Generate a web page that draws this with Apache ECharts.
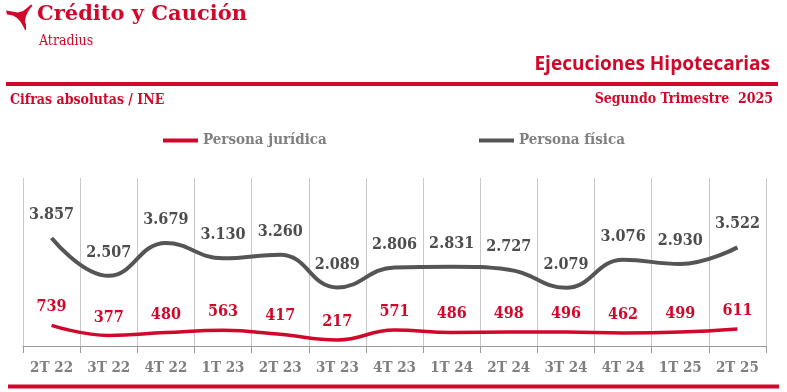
<!DOCTYPE html>
<html><head><meta charset="utf-8">
<script src="https://cdn.jsdelivr.net/npm/echarts@6/dist/echarts.min.js"></script>
<style>html,body{margin:0;padding:0;background:#fff}#c{width:787px;height:392px}</style>
</head><body><div id="c"></div>
<script>
const categories = ['2T 22','3T 22','4T 22','1T 23','2T 23','3T 23','4T 23','1T 24','2T 24','3T 24','4T 24','1T 25','2T 25'];
const personaFisica = [3857,2507,3679,3130,3260,2089,2806,2831,2727,2079,3076,2930,3522];
const personaJuridica = [739,377,480,563,417,217,571,486,498,496,462,499,611];
const seriesNames = ['Persona jurídica','Persona física'];

const RED = '#d0092c';
const GRAY = '#555555';
const SLAB = "'DejaVu Serif Condensed','DejaVu Serif',serif";
const SLABW = "'DejaVu Serif',serif";
const fmt = v => String(v).replace(/\B(?=(\d{3})+(?!\d))/g, '.');

const chart = echarts.init(document.getElementById('c'));
chart.setOption({
  animation: false,
  grid: {left: 23, right: 21, top: 178, bottom: 46},
  legend: [
    {data: [seriesNames[0]], left: 163, top: 133, padding: 0, icon: 'rect', itemWidth: 35, itemHeight: 4, itemGap: 0,
     textStyle: {color: '#808080', fontFamily: SLAB, fontWeight: 'bold', fontSize: 15}},
    {data: [seriesNames[1]], left: 479, top: 133, padding: 0, icon: 'rect', itemWidth: 35, itemHeight: 4, itemGap: 0,
     textStyle: {color: '#808080', fontFamily: SLAB, fontWeight: 'bold', fontSize: 15}}
  ],
  xAxis: {
    type: 'category', data: categories, boundaryGap: true,
    axisLine: {lineStyle: {color: '#9a9a9a', width: 1}},
    axisTick: {show: true, length: 7, lineStyle: {color: '#9a9a9a'}},
    splitLine: {show: true, lineStyle: {color: '#c8c8c8', width: 1}},
    axisLabel: {color: '#7f7f7f', fontFamily: SLAB, fontWeight: 'bold', fontSize: 15, margin: 15}
  },
  yAxis: {type: 'value', min: 0, max: 6000, show: false},
  series: [
    {name: seriesNames[0], type: 'line', data: personaJuridica, smooth: 0.45, symbol: 'circle', symbolSize: 0.1, showSymbol: true,
     lineStyle: {color: RED, width: 3.5}, itemStyle: {color: RED},
     label: {show: true, position: 'top', distance: 10, color: RED, fontFamily: SLAB, fontWeight: 'bold', fontSize: 16, formatter: p => fmt(p.value)}},
    {name: seriesNames[1], type: 'line', data: personaFisica, smooth: 0.45, symbol: 'circle', symbolSize: 0.1, showSymbol: true,
     lineStyle: {color: GRAY, width: 4}, itemStyle: {color: GRAY},
     label: {show: true, position: 'top', distance: 15, color: '#4d4d4d', fontFamily: SLAB, fontWeight: 'bold', fontSize: 16, formatter: p => fmt(p.value)}}
  ],
  graphic: [
    {type: 'polygon', shape: {points: [[6,10.5],[12,11.5],[18,12.5],[23,11],[27,8],[31,4.5],[32.5,5.5],[29,10],[26,16],[25,21],[26,25],[26,30],[25,30],[23,26],[20,21],[17,18],[13,15.5],[7,14.5]]}, style: {fill: RED}},
    {type: 'text', style: {x: 37, y: 15, text: 'Crédito y Caución', font: "bold 21px " + SLABW, fill: RED, textVerticalAlign: 'middle'}},
    {type: 'text', style: {x: 39, y: 41, text: 'Atradius', font: "14px " + SLAB, fill: RED, textVerticalAlign: 'middle'}},
    {type: 'text', style: {x: 770, y: 65, text: 'Ejecuciones Hipotecarias', font: "bold 19px 'Open Sans', Lato, sans-serif", fill: RED, textAlign: 'right', textVerticalAlign: 'middle'}},
    {type: 'rect', shape: {x: 6, y: 82, width: 772, height: 4}, style: {fill: RED}},
    {type: 'rect', shape: {x: 8, y: 384.5, width: 771, height: 4}, style: {fill: RED}},
    {type: 'text', style: {x: 10, y: 100, text: 'Cifras absolutas / INE', font: "bold 14px " + SLAB, fill: RED, textVerticalAlign: 'middle'}},
    {type: 'text', style: {x: 773, y: 99, text: 'Segundo Trimestre  2025', font: "bold 14px " + SLAB, fill: RED, textAlign: 'right', textVerticalAlign: 'middle'}}
  ]
});
</script></body></html>
